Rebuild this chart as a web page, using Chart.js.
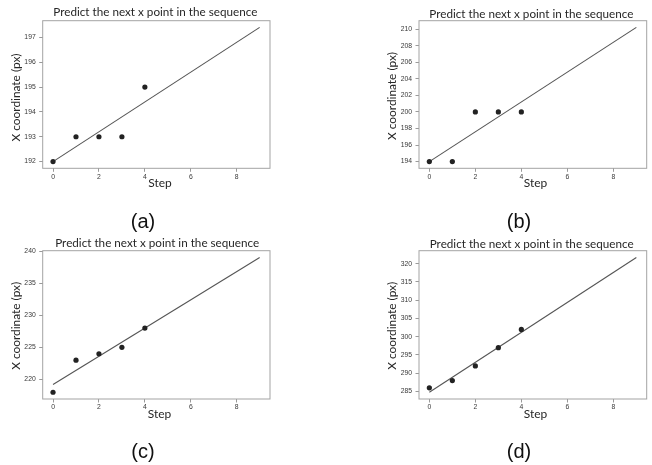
<!DOCTYPE html>
<html><head><meta charset="utf-8">
<script src="https://cdn.jsdelivr.net/npm/chart.js@4.4.0/dist/chart.umd.min.js"></script>
<style>
body{margin:0;background:#fff;width:652px;height:465px;position:relative;overflow:hidden}
canvas{position:absolute;left:0;top:0}
.lbl{position:absolute;font-family:"Liberation Sans",Arial,sans-serif;font-size:20px;color:#111;transform:translate(-50%,-50%);line-height:1;white-space:nowrap}
</style></head><body>
<canvas id="ca" width="652" height="465"></canvas>
<canvas id="cb" width="652" height="465"></canvas>
<canvas id="cc" width="652" height="465"></canvas>
<canvas id="cd" width="652" height="465"></canvas>
<div class="lbl" style="left:143px;top:221px">(a)</div>
<div class="lbl" style="left:519px;top:221px">(b)</div>
<div class="lbl" style="left:143px;top:451px">(c)</div>
<div class="lbl" style="left:519px;top:451px">(d)</div>
<script>
// ---- data ----
const steps = [0, 1, 2, 3, 4];
const xCoordA = [192, 193, 193, 193, 195];
const xCoordB = [194, 194, 200, 200, 200];
const xCoordC = [218, 223, 224, 225, 228];
const xCoordD = [286, 288, 292, 297, 302];
const fitSteps = [0, 9];
const fitA = [192.0, 197.4];
const fitB = [194.0, 210.2];
const fitC = [219.2, 239.0];
const fitD = [284.8, 321.7];
const xTicks = [0, 2, 4, 6, 8];
const yTicksA = [192, 193, 194, 195, 196, 197];
const yTicksB = [194, 196, 198, 200, 202, 204, 206, 208, 210];
const yTicksC = [220, 225, 230, 235, 240];
const yTicksD = [285, 290, 295, 300, 305, 310, 315, 320];
const xRange = [-0.45, 9.45];
const yRangeA = [191.73, 197.67];
const yRangeB = [193.19, 211.01];
const yRangeC = [216.95, 240.05];
const yRangeD = [282.955, 323.545];
const titleText = 'Predict the next x point in the sequence';
const xAxisTitle = 'Step';
const yAxisTitle = 'X coordinate (px)';

// ---- layout (page pixel positions) ----
const PW = 652, PH = 465;
const layoutA = {area:[42.7,20.7,270,168.3], title:[155.3,15.7], xt:[160,187], yt:[19.8,97.5]};
const layoutB = {area:[419,20.7,646.7,168.3], title:[531.3,18.3], xt:[535.5,186.5], yt:[396,96]};
const layoutC = {area:[42.7,250.7,270,399], title:[157.2,247.3], xt:[159.5,417.7], yt:[19.8,325.8]};
const layoutD = {area:[419,250.7,646.7,399], title:[531.7,247.7], xt:[535.5,418], yt:[396,325.8]};

const TEXT_FAMILY = 'Lato, "Open Sans", sans-serif';
const TEXT_SIZE = 11.5;
// draw text with a fixed size, squeezed horizontally to a target width
function drawFitted(ctx, text, x, y, target, rotate){
  ctx.save();
  ctx.font = TEXT_SIZE + 'px ' + TEXT_FAMILY;
  const w = ctx.measureText(text).width;
  ctx.translate(x, y);
  if (rotate) ctx.rotate(-Math.PI/2);
  ctx.scale(target / w, 1);
  ctx.fillText(text, 0, 0);
  ctx.restore();
}

const panelPlugin = {
  id: 'panelText',
  beforeDatasetsDraw(chart, args, opts){
    const ctx = chart.ctx, a = chart.chartArea;
    ctx.save();
    ctx.strokeStyle = '#a3a3a3';
    ctx.lineWidth = 1;
    ctx.strokeRect(a.left, a.top, a.right - a.left, a.bottom - a.top);
    ctx.restore();
  },
  afterDraw(chart, args, opts){
    const ctx = chart.ctx;
    ctx.save();
    ctx.fillStyle = '#262626';
    ctx.textAlign = 'center';
    ctx.textBaseline = 'alphabetic';
    drawFitted(ctx, titleText, opts.title[0], opts.title[1], 204, false);
    drawFitted(ctx, xAxisTitle, opts.xt[0], opts.xt[1], 23.5, false);
    drawFitted(ctx, yAxisTitle, opts.yt[0], opts.yt[1], 88, true);
    ctx.restore();
  }
};

function makePanel(id, values, fit, yTicks, yRange, lay){
  const [L, T, R, B] = lay.area;
  const tickFont = {family: '"Liberation Sans", Arial, sans-serif', size: 6.8};
  new Chart(document.getElementById(id), {
    type: 'scatter',
    data: {
      datasets: [
        {
          data: steps.map((s, i) => ({x: s, y: values[i]})),
          pointRadius: 2.6,
          pointBackgroundColor: '#222',
          pointBorderWidth: 0,
          showLine: false,
          order: 1
        },
        {
          data: fitSteps.map((s, i) => ({x: s, y: fit[i]})),
          showLine: true,
          pointRadius: 0,
          borderColor: '#555',
          borderWidth: 1.1,
          fill: false,
          order: 2
        }
      ]
    },
    options: {
      responsive: false,
      animation: false,
      devicePixelRatio: 1,
      layout: {padding: {left: 0, top: T, right: PW - R, bottom: 0}},
      plugins: {legend: {display: false}, tooltip: {enabled: false}, title: {display: false}, panelText: lay},
      scales: {
        x: {
          type: 'linear', min: xRange[0], max: xRange[1],
          afterBuildTicks: s => { s.ticks = xTicks.map(v => ({value: v})); },
          afterFit: s => { s.height = PH - B; },
          grid: {drawOnChartArea: false, drawTicks: true, tickLength: 3.5, color: '#9a9a9a'},
          border: {display: false},
          ticks: {padding: 1, font: tickFont, color: '#383838', maxRotation: 0, autoSkip: false}
        },
        y: {
          type: 'linear', min: yRange[0], max: yRange[1],
          afterBuildTicks: s => { s.ticks = yTicks.map(v => ({value: v})); },
          afterFit: s => { s.width = L; },
          grid: {drawOnChartArea: false, drawTicks: true, tickLength: 3.5, color: '#9a9a9a'},
          border: {display: false},
          ticks: {padding: 3.5, font: tickFont, color: '#383838', autoSkip: false}
        }
      }
    },
    plugins: [panelPlugin]
  });
}

makePanel('ca', xCoordA, fitA, yTicksA, yRangeA, layoutA);
makePanel('cb', xCoordB, fitB, yTicksB, yRangeB, layoutB);
makePanel('cc', xCoordC, fitC, yTicksC, yRangeC, layoutC);
makePanel('cd', xCoordD, fitD, yTicksD, yRangeD, layoutD);
</script>
</body></html>
